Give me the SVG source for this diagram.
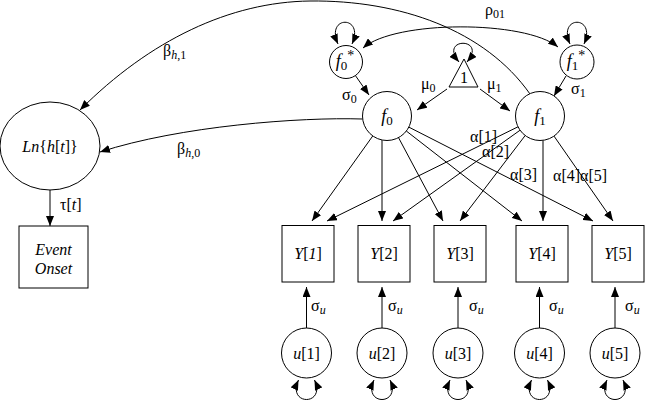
<svg xmlns="http://www.w3.org/2000/svg" width="645" height="402" viewBox="0 0 645 402" font-family="'Liberation Serif', 'DejaVu Serif', 'Noto Serif', serif">
<style>
.t{font-family:'Liberation Serif','DejaVu Serif',serif;font-size:16px;fill:#000}
.i{font-style:italic}
.s{font-size:12px}
.n{fill:#fff;stroke:#000;stroke-width:1}
.e{fill:none;stroke:#000;stroke-width:1}
.a{marker-end:url(#ah)}
.d{marker-start:url(#ah);marker-end:url(#ah)}
</style>
<defs>
<marker id="ah" viewBox="0 0 10 8" refX="10" refY="4" markerWidth="10" markerHeight="8" markerUnits="userSpaceOnUse" orient="auto-start-reverse">
<path d="M0,0 L10,4 L0,8 z" fill="#000"/>
</marker>
</defs>
<rect width="645" height="402" fill="#fff"/>
<g id="connectors">
<path class="e a" d="M530 94 C485 30 400 0 310 1 C230 2 150 40 80 110"/>
<path class="e a" d="M362.5 119 C300 117 180 126 100 152"/>
<path class="e a" d="M50 189 L50 226"/>
<path class="e d" d="M363 48 C395 20 525 20 558 47"/>
<path class="e a" d="M355 75 L369 95"/>
<path class="e a" d="M566 76 L554 96"/>
<path class="e a" d="M447 89 L417 110"/>
<path class="e a" d="M480 89 L510 111"/>
<path class="e d" d="M338 44 C325 15 365 15 352 44"/>
<path class="e d" d="M570 44 C557 15 597 15 584 44"/>
<path class="e d" d="M459 62 C438 37 488 37 467 62"/>
<path class="e a" d="M372.8 135.9 L312 221"/>
<path class="e a" d="M382 140 L382 221"/>
<path class="e a" d="M398.5 137.6 L443 221"/>
<path class="e a" d="M406.3 131 L522 221"/>
<path class="e a" d="M408.8 127.1 L593 221"/>
<path class="e a" d="M518 126.8 L327 221"/>
<path class="e a" d="M520.1 130.2 L393 221"/>
<path class="e a" d="M525.2 135.5 L460 221"/>
<path class="e a" d="M543 140.3 L543 221"/>
<path class="e a" d="M554 136.1 L613 221"/>
<path class="e a" d="M306.5 328 L306.5 287"/>
<path class="e a" d="M382 328 L382 287"/>
<path class="e a" d="M458 328 L458 287"/>
<path class="e a" d="M539.5 328 L539.5 287"/>
<path class="e a" d="M615 328 L615 287"/>
<path class="e d" d="M298.5 380 C286.5 406 326.5 406 314.5 380"/>
<path class="e d" d="M374 380 C362 406 402 406 390 380"/>
<path class="e d" d="M450 380 C438 406 478 406 466 380"/>
<path class="e d" d="M531.5 380 C519.5 406 559.5 406 547.5 380"/>
<path class="e d" d="M607 380 C595 406 635 406 623 380"/>
</g>
<g id="edge-labels" class="t">
<text x="485" y="15">ρ<tspan class="s" dy="3">01</tspan></text>
<text x="163" y="56">β<tspan class="s" dy="3"><tspan class="i">h</tspan>,1</tspan></text>
<text x="177" y="154">β<tspan class="s" dy="3"><tspan class="i">h</tspan>,0</tspan></text>
<text x="60" y="210">τ[<tspan class="i">t</tspan>]</text>
<text x="342" y="100">σ<tspan class="s" dy="3">0</tspan></text>
<text x="571" y="94">σ<tspan class="s" dy="3">1</tspan></text>
<text x="421" y="89">μ<tspan class="s" dy="3">0</tspan></text>
<text x="487" y="89">μ<tspan class="s" dy="3">1</tspan></text>
<text x="470" y="142">α[1]</text>
<text x="482" y="157">α[2]</text>
<text x="510" y="180">α[3]</text>
<text x="553" y="181">α[4]α[5]</text>
<text x="311" y="311">σ<tspan class="s i" dy="3">u</tspan></text>
<text x="388" y="311">σ<tspan class="s i" dy="3">u</tspan></text>
<text x="469" y="311">σ<tspan class="s i" dy="3">u</tspan></text>
<text x="549" y="311">σ<tspan class="s i" dy="3">u</tspan></text>
<text x="625" y="311">σ<tspan class="s i" dy="3">u</tspan></text>
</g>
<g id="node-lnh">
<ellipse class="n" cx="50" cy="146" rx="50" ry="44"/>
<text class="t" x="50" y="152" text-anchor="middle"><tspan class="i">Ln</tspan>{<tspan class="i">h</tspan>[<tspan class="i">t</tspan>]}</text>
</g>
<g id="node-event">
<rect class="n" x="19" y="226" width="69" height="62"/>
<text class="t i" x="53.5" y="255" text-anchor="middle">Event</text>
<text class="t i" x="53.5" y="274" text-anchor="middle">Onset</text>
</g>
<g id="node-f0star">
<circle class="n" cx="346" cy="62" r="16.5"/>
<text class="t" x="345" y="67" text-anchor="middle"><tspan class="i" font-size="18">f</tspan><tspan font-size="13" dy="3">0</tspan><tspan font-size="14" dy="-10">*</tspan></text>
</g>
<g id="node-f1star">
<circle class="n" cx="577" cy="62" r="17"/>
<text class="t" x="576" y="67" text-anchor="middle"><tspan class="i" font-size="18">f</tspan><tspan font-size="13" dy="3">1</tspan><tspan font-size="14" dy="-10">*</tspan></text>
</g>
<g id="node-one">
<path class="n" d="M464 59 L449 87 L478 87 Z"/>
<text class="t" x="464" y="83" text-anchor="middle">1</text>
</g>
<g id="node-f0">
<circle class="n" cx="387" cy="116" r="24.5"/>
<text class="t" x="387" y="122" text-anchor="middle"><tspan class="i" font-size="18">f</tspan><tspan font-size="13" dy="3">0</tspan></text>
</g>
<g id="node-f1">
<circle class="n" cx="540" cy="116" r="24.5"/>
<text class="t" x="540" y="122" text-anchor="middle"><tspan class="i" font-size="18">f</tspan><tspan font-size="13" dy="3">1</tspan></text>
</g>
<g id="node-y1"><rect class="n" x="282" y="225.5" width="52" height="56.5"/><text class="t" x="308" y="259" text-anchor="middle"><tspan class="i">Y</tspan>[<tspan class="i">1</tspan>]</text></g>
<g id="node-y2"><rect class="n" x="358" y="225.5" width="52" height="56.5"/><text class="t" x="384" y="259" text-anchor="middle"><tspan class="i">Y</tspan>[2]</text></g>
<g id="node-y3"><rect class="n" x="434" y="225.5" width="52" height="56.5"/><text class="t" x="460" y="259" text-anchor="middle"><tspan class="i">Y</tspan>[3]</text></g>
<g id="node-y4"><rect class="n" x="516" y="225.5" width="52" height="56.5"/><text class="t" x="542" y="259" text-anchor="middle"><tspan class="i">Y</tspan>[4]</text></g>
<g id="node-y5"><rect class="n" x="592" y="225.5" width="52" height="56.5"/><text class="t" x="618" y="259" text-anchor="middle"><tspan class="i">Y</tspan>[5]</text></g>
<g id="node-u1"><circle class="n" cx="306.5" cy="353" r="25"/><text class="t" x="306.5" y="359" text-anchor="middle"><tspan class="i">u</tspan>[1]</text></g>
<g id="node-u2"><circle class="n" cx="382" cy="353" r="25"/><text class="t" x="382" y="359" text-anchor="middle"><tspan class="i">u</tspan>[2]</text></g>
<g id="node-u3"><circle class="n" cx="458" cy="353" r="25"/><text class="t" x="458" y="359" text-anchor="middle"><tspan class="i">u</tspan>[3]</text></g>
<g id="node-u4"><circle class="n" cx="539.5" cy="353" r="25"/><text class="t" x="539.5" y="359" text-anchor="middle"><tspan class="i">u</tspan>[4]</text></g>
<g id="node-u5"><circle class="n" cx="615" cy="353" r="25"/><text class="t" x="615" y="359" text-anchor="middle"><tspan class="i">u</tspan>[5]</text></g>
</svg>
